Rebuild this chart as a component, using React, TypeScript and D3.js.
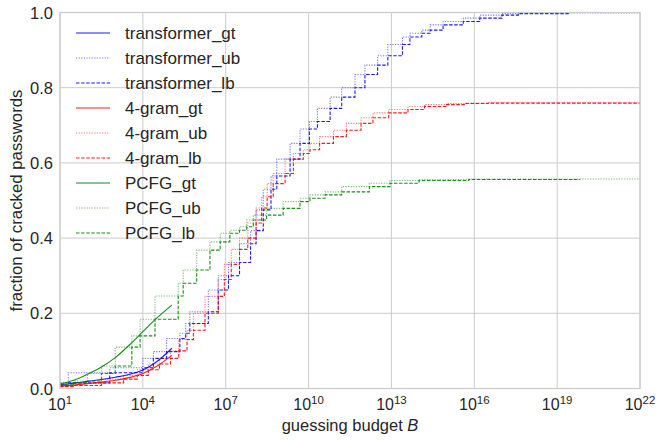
import React from 'react';
import * as d3 from 'd3';

const W = 659;
const H = 444;

const xTickExps = [1, 4, 7, 10, 13, 16, 19, 22];
const yTicks = [0, 0.2, 0.4, 0.6, 0.8, 1.0];

// ground-truth (solid) curves
const gtLogB = [1, 1.5, 2, 2.5, 3, 3.5, 4, 4.5, 5.05];
const transformerGt = [0.01, 0.014, 0.019, 0.024, 0.03, 0.037, 0.049, 0.071, 0.107];
const fourGramGt = [0.006, 0.009, 0.013, 0.017, 0.022, 0.029, 0.04, 0.059, 0.088];
const pcfgGt = [0.012, 0.022, 0.038, 0.057, 0.082, 0.115, 0.151, 0.187, 0.222];

// knots of the step estimates (log10 of guesses, fraction)
const transformerLogB = [1.0, 1.3, 2.8, 4.0, 4.38, 4.86, 5.34, 5.55, 5.7, 6.37, 6.73, 7.1, 7.5, 7.9, 8.1, 8.36, 8.64, 8.85, 9.33, 9.69, 10.03, 10.32, 10.78, 11.2, 11.68, 12.04, 12.5, 12.87, 13.4, 13.67, 14.1, 14.4, 14.87, 15.6, 16.2, 17.0, 17.6, 19.4];
const transformerFrac = [0.008, 0.015, 0.042, 0.055, 0.08, 0.098, 0.133, 0.147, 0.173, 0.204, 0.262, 0.3, 0.335, 0.385, 0.42, 0.475, 0.53, 0.565, 0.61, 0.652, 0.69, 0.71, 0.745, 0.775, 0.8, 0.835, 0.86, 0.885, 0.915, 0.935, 0.945, 0.953, 0.967, 0.976, 0.985, 0.993, 0.997, 0.999];

const fourGramLogB = [1.0, 1.5, 2.5, 3.3, 3.8, 4.2, 4.6, 5.0, 5.3, 5.6, 5.83, 6.25, 6.73, 6.95, 7.2, 7.5, 7.8, 8.1, 8.3, 8.5, 8.72, 9.15, 9.45, 9.81, 10.05, 10.4, 10.9, 11.37, 11.9, 12.33, 12.9, 13.6, 14.2, 15.0, 15.7, 16.5, 22];
const fourGramFrac = [0.005, 0.008, 0.015, 0.025, 0.035, 0.05, 0.065, 0.08, 0.1, 0.13, 0.155, 0.2, 0.245, 0.29, 0.33, 0.37, 0.4, 0.44, 0.48, 0.51, 0.545, 0.572, 0.61, 0.625, 0.635, 0.652, 0.67, 0.687, 0.705, 0.72, 0.733, 0.742, 0.75, 0.755, 0.758, 0.759, 0.76];

const pcfgLogB = [1.0, 1.5, 2.0, 2.5, 3.0, 3.6, 3.9, 4.44, 5.28, 5.46, 5.95, 6.43, 6.8, 7.15, 7.5, 7.76, 8.0, 8.48, 9.08, 9.69, 10.05, 10.6, 11.2, 12.2, 12.95, 14.0, 15.8, 19.8];
const pcfgFrac = [0.01, 0.015, 0.02, 0.04, 0.06, 0.11, 0.14, 0.184, 0.246, 0.28, 0.315, 0.368, 0.39, 0.413, 0.421, 0.43, 0.448, 0.461, 0.479, 0.497, 0.506, 0.515, 0.523, 0.537, 0.546, 0.553, 0.556, 0.557];

const modelNames = ['transformer', '4-gram', 'PCFG'];
const modelColors = ['#0000ff', '#ff0000', '#008000'];

const margin = { left: 60, right: 19, top: 12.5, bottom: 55.5 };
const FONT = 'Liberation Sans, Arial, sans-serif';
const TEXT = '#262626';
const GRID = '#cccccc';

export default function App() {
  const x = d3.scaleLinear().domain([1, 22]).range([margin.left, W - margin.right]);
  const y = d3.scaleLinear().domain([0, 1]).range([H - margin.bottom, margin.top]);

  const models = [
    { gt: transformerGt, lb: transformerLogB, f: transformerFrac },
    { gt: fourGramGt, lb: fourGramLogB, f: fourGramFrac },
    { gt: pcfgGt, lb: pcfgLogB, f: pcfgFrac },
  ];

  const lineGt = d3.line<[number, number]>().x(d => x(d[0])).y(d => y(d[1])).curve(d3.curveMonotoneX);
  const lineUb = d3.line<[number, number]>().x(d => x(d[0])).y(d => y(d[1])).curve(d3.curveStepBefore);
  const lineLb = d3.line<[number, number]>().x(d => x(d[0])).y(d => y(d[1])).curve(d3.curveStepAfter);

  const styles = {
    gt: { dash: undefined as string | undefined, op: 0.9 },
    ub: { dash: '1.3,1.3', op: 0.5 },
    lb: { dash: '3.5,1.6', op: 0.9 },
  };

  const legendItems: { label: string; color: string; kind: 'gt' | 'ub' | 'lb' }[] = [];
  modelNames.forEach((n, i) => {
    (['gt', 'ub', 'lb'] as const).forEach(k => legendItems.push({ label: `${n}_${k}`, color: modelColors[i], kind: k }));
  });

  const x0 = margin.left, x1 = W - margin.right, y0 = H - margin.bottom, y1 = margin.top;

  return (
    <svg width={W} height={H} style={{ position: 'absolute', left: 0, top: 0, background: '#fff' }} fontFamily={FONT}>
      <rect x={0} y={0} width={W} height={H} fill="#fff" />
      {xTickExps.map(e => (
        <line key={'gx' + e} x1={x(e)} x2={x(e)} y1={y0} y2={y1} stroke={GRID} strokeWidth={1} />
      ))}
      {yTicks.map(t => (
        <line key={'gy' + t} x1={x0} x2={x1} y1={y(t)} y2={y(t)} stroke={GRID} strokeWidth={1} />
      ))}
      <defs>
        <clipPath id="plotclip">
          <rect x={x0} y={y1 - 2} width={x1 - x0} height={y0 - y1 + 2} />
        </clipPath>
      </defs>
      <g clipPath="url(#plotclip)">
        {models.map((m, i) => {
          const gtPts = gtLogB.map((v, j) => [v, m.gt[j]] as [number, number]);
          const knots = m.lb.map((v, j) => [v, m.f[j]] as [number, number]);
          const last = knots[knots.length - 1];
          const ubPts = last[0] < 22 ? [...knots, [22, last[1]] as [number, number]] : knots;
          const c = modelColors[i];
          return (
            <g key={i}>
              <path d={lineGt(gtPts) || ''} fill="none" stroke={c} strokeOpacity={styles.gt.op} strokeWidth={1.1} />
              <path d={lineUb(ubPts) || ''} fill="none" stroke={c} strokeOpacity={styles.ub.op} strokeWidth={1.1} strokeDasharray={styles.ub.dash} />
              <path d={lineLb(knots) || ''} fill="none" stroke={c} strokeOpacity={styles.lb.op} strokeWidth={1.1} strokeDasharray={styles.lb.dash} />
            </g>
          );
        })}
      </g>
      <rect x={x0} y={y1} width={x1 - x0} height={y0 - y1} fill="none" stroke={GRID} strokeWidth={1.25} />
      {xTickExps.map(e => (
        <text key={'xt' + e} x={x(e)} y={y0 + 21} textAnchor="middle" fill={TEXT} fontSize={16}>
          <tspan>10</tspan>
          <tspan fontSize={11.5} dy={-6}>{e}</tspan>
        </text>
      ))}
      {yTicks.map(t => (
        <text key={'yt' + t} x={x0 - 7} y={y(t) + 6} textAnchor="end" fill={TEXT} fontSize={16.5}>
          {t.toFixed(1)}
        </text>
      ))}
      <text x={(x0 + x1) / 2} y={431} textAnchor="middle" fill={TEXT} fontSize={16.5}>
        guessing budget <tspan fontStyle="italic">B</tspan>
      </text>
      <text transform={`translate(22,${(y0 + y1) / 2}) rotate(-90)`} textAnchor="middle" fill={TEXT} fontSize={16.8}>
        fraction of cracked passwords
      </text>
      {legendItems.map((it, i) => {
        const cy = 33 + i * 25;
        const st = styles[it.kind];
        return (
          <g key={it.label}>
            <line x1={76} x2={110} y1={cy} y2={cy} stroke={it.color} strokeOpacity={st.op} strokeWidth={1.1} strokeDasharray={st.dash} />
            <text x={125} y={cy + 6} fill={TEXT} fontSize={17}>{it.label}</text>
          </g>
        );
      })}
    </svg>
  );
}
